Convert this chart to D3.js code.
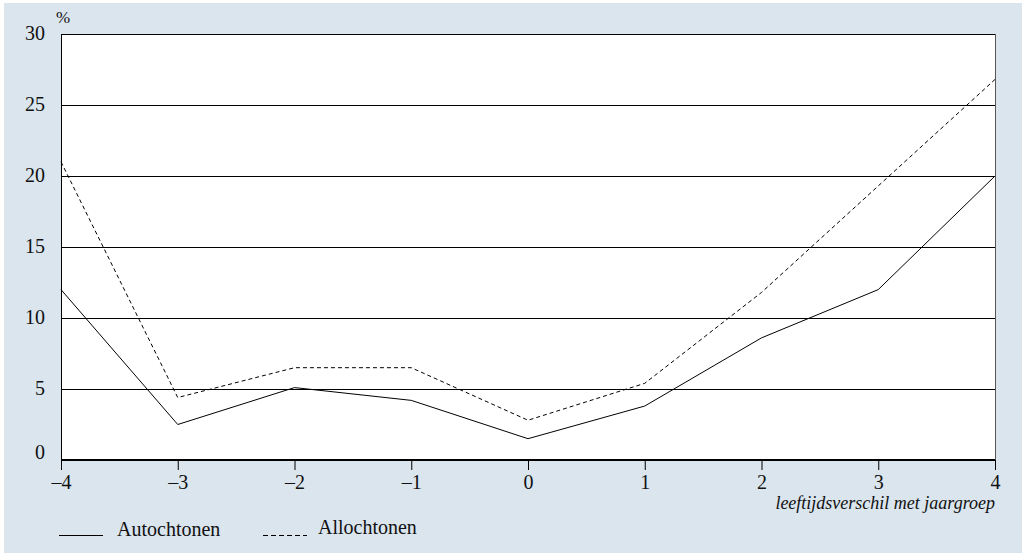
<!DOCTYPE html>
<html><head><meta charset="utf-8">
<script src="https://cdn.jsdelivr.net/npm/d3@7"></script>
<style>body{margin:0;background:#fff}svg{display:block}text{font-family:"Liberation Serif","DejaVu Serif",serif;fill:#111}</style>
</head><body>
<script>
const xValues = [-4, -3, -2, -1, 0, 1, 2, 3, 4];
const autochtonen = [12.0, 2.5, 5.1, 4.2, 1.5, 3.8, 8.6, 12.0, 20.0];
const allochtonen = [21.0, 4.4, 6.5, 6.5, 2.8, 5.4, 11.8, 19.3, 26.8];
const yTicks = [0, 5, 10, 15, 20, 25, 30];
const xTickLabels = ["\u20134", "\u20133", "\u20132", "\u20131", "0", "1", "2", "3", "4"];
const seriesNames = ["Autochtonen", "Allochtonen"];

const W = 1022, H = 553;
const svg = d3.select("body").append("svg").attr("width", W).attr("height", H);
svg.append("rect").attr("x", 4).attr("y", 3).attr("width", W - 4).attr("height", H - 3).attr("fill", "#dae5ee");

const m = {l: 61, r: 995, t: 34, b: 460};
const x = d3.scaleLinear().domain([-4, 4]).range([m.l, m.r]);
const y = d3.scaleLinear().domain([0, 30]).range([m.b, m.t]);

svg.append("rect").attr("x", m.l).attr("y", m.t).attr("width", m.r - m.l).attr("height", m.b - m.t).attr("fill", "#fff");

// gridlines
svg.append("g").selectAll("line").data(yTicks.filter(d => d > 0)).join("line")
  .attr("x1", m.l).attr("x2", m.r).attr("y1", d => Math.round(y(d)) + 0.5).attr("y2", d => Math.round(y(d)) + 0.5)
  .attr("stroke", "#000").attr("stroke-width", 1);
// left & right frame
svg.append("line").attr("x1", m.l + 0.5).attr("x2", m.l + 0.5).attr("y1", m.t).attr("y2", m.b).attr("stroke", "#000");
svg.append("line").attr("x1", m.r + 0.5).attr("x2", m.r + 0.5).attr("y1", m.t).attr("y2", m.b).attr("stroke", "#555");

// y labels
svg.append("g").selectAll("text").data(yTicks).join("text")
  .attr("x", 45).attr("y", d => y(d) + (d === 0 ? -1 : 6)).attr("text-anchor", "end")
  .attr("font-size", 20).text(d => d);
svg.append("text").attr("x", 56).attr("y", 23).attr("font-size", 17).text("%");

// x axis
const xAxis = d3.axisBottom(x).tickValues(xValues).tickSize(10).tickPadding(5)
  .tickFormat((d, i) => xTickLabels[i]);
const gx = svg.append("g").attr("transform", `translate(0,${m.b})`).call(xAxis);
gx.select(".domain").attr("stroke", "#000").attr("stroke-width", 2).attr("d", `M${m.l},0H${m.r}`);
gx.selectAll(".tick line").attr("stroke", "#000");
gx.selectAll(".tick text").attr("font-size", 20).attr("font-family", "Liberation Serif, serif").attr("fill", "#111")
  .attr("dy", null).attr("y", 29);

svg.append("text").attr("x", m.r).attr("y", 509).attr("text-anchor", "end")
  .attr("font-size", 18).attr("font-style", "italic").text("leeftijdsverschil met jaargroep");

// lines
const line = d3.line().x((d, i) => x(xValues[i])).y(d => y(d));
svg.append("path").datum(autochtonen).attr("d", line).attr("fill", "none").attr("stroke", "#000").attr("stroke-width", 1);
svg.append("path").datum(allochtonen).attr("d", line).attr("fill", "none").attr("stroke", "#000").attr("stroke-width", 1).attr("stroke-dasharray", "4,3");

// legend
svg.append("line").attr("x1", 59).attr("x2", 103).attr("y1", 535.5).attr("y2", 535.5).attr("stroke", "#000");
svg.append("text").attr("x", 117).attr("y", 536).attr("font-size", 20).text(seriesNames[0]);
svg.append("line").attr("x1", 263).attr("x2", 307).attr("y1", 535.5).attr("y2", 535.5).attr("stroke", "#000").attr("stroke-dasharray", "5,3");
svg.append("text").attr("x", 318).attr("y", 534).attr("font-size", 20).text(seriesNames[1]);
</script>
</body></html>
